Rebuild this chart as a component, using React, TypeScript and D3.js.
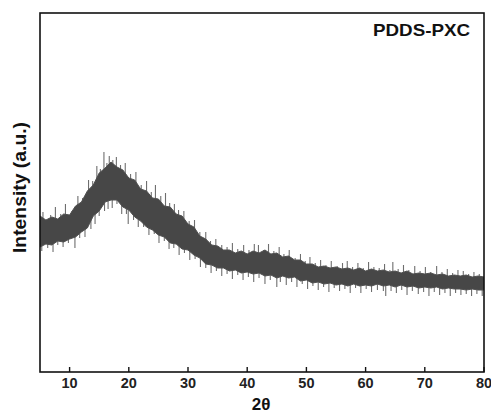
import React from "react";
import * as d3 from "d3";

// 2θ sample positions (1° steps) and the upper / lower edges of the dense XRD trace (a.u.)
const angles = d3.range(5, 81, 1);
const upperEdge = [156, 152, 155, 153, 158, 157, 166, 170, 181, 187, 199, 204, 210, 205, 202, 194, 192, 183, 181, 174, 173, 166, 165, 158, 156, 148, 145, 136, 133, 127, 126, 122, 122, 119, 121, 118, 121, 119, 122, 118, 119, 115, 116, 112, 112, 108, 108, 105, 106, 104, 105, 103, 104, 102, 104, 101, 103, 101, 102, 100, 101, 99, 101, 98, 99, 98, 99, 97, 98, 96, 97, 96, 97, 95, 96, 95];
const lowerEdge = [125, 128, 127, 131, 130, 133, 135, 140, 144, 156, 161, 170, 172, 172, 165, 162, 155, 151, 145, 142, 137, 135, 129, 128, 123, 122, 117, 114, 108, 107, 104, 104, 101, 102, 99, 100, 98, 99, 96, 97, 94, 96, 94, 95, 91, 92, 89, 90, 88, 89, 87, 88, 86, 88, 86, 87, 86, 88, 86, 87, 85, 87, 85, 86, 84, 85, 84, 85, 83, 84, 83, 83, 82, 83, 82, 82];

// noise spikes sticking out above the band: 2θ and tip intensity (a.u.)
const spikeUpAngles = [5.5, 6.8, 7.6, 8.5, 9.3, 10.4, 11.4, 12.2, 13.2, 13.9, 14.6, 15.2, 15.8, 16.3, 16.7, 17.3, 17.9, 18.6, 19.4, 20.3, 21.2, 22.1, 23.0, 23.8, 24.5, 25.4, 26.2, 26.9, 27.7, 28.4, 29.3, 30.2, 31.1, 32.0, 33.0, 33.8, 34.7, 35.7, 36.6, 37.5, 38.4, 39.4, 40.3, 41.2, 41.9, 42.8, 43.6, 44.5, 45.4, 46.2, 47.1, 48.1, 49.0, 49.8, 50.6, 51.5, 52.4, 53.3, 54.2, 55.2, 56.1, 56.9, 57.8, 58.7, 59.6, 60.5, 61.4, 62.3, 63.2, 64.1, 64.6, 65.5, 66.4, 67.3, 68.3, 69.2, 70.1, 71.0, 72.0, 72.9, 73.8, 74.7, 75.6, 76.5, 77.4, 78.3, 79.2];
const spikeUpValues = [160, 157, 165, 158, 168, 161, 176, 174, 192, 191, 206, 203, 220, 209, 216, 212, 215, 207, 209, 198, 200, 187, 191, 180, 187, 176, 179, 169, 168, 162, 161, 151, 152, 140, 140, 131, 133, 127, 125, 129, 123, 127, 122, 128, 127, 122, 128, 121, 125, 118, 122, 114, 118, 111, 115, 109, 112, 107, 111, 106, 109, 111, 105, 109, 104, 110, 105, 104, 108, 102, 110, 103, 107, 102, 106, 101, 105, 100, 106, 100, 103, 99, 102, 101, 98, 100, 98];

// noise spikes sticking out below the band: 2θ and tip intensity (a.u.)
const spikeDownAngles = [5.3, 6.3, 7.2, 8.0, 8.9, 9.8, 10.9, 11.7, 12.6, 13.6, 14.3, 15.0, 15.9, 16.5, 17.2, 18.0, 18.8, 19.6, 19.9, 20.8, 21.6, 22.5, 23.4, 24.3, 25.1, 26.0, 26.8, 27.6, 28.5, 29.4, 30.3, 31.2, 32.1, 33.0, 33.9, 34.8, 35.7, 36.6, 37.5, 38.4, 39.3, 40.2, 41.1, 42.0, 43.0, 43.9, 45.0, 45.6, 46.6, 47.5, 48.4, 49.3, 50.2, 51.1, 52.0, 52.9, 53.8, 54.7, 55.6, 56.5, 57.4, 58.3, 59.2, 60.1, 61.0, 62.0, 63.0, 63.4, 64.3, 65.2, 66.1, 67.0, 67.9, 68.9, 69.8, 70.7, 71.6, 72.5, 73.4, 74.3, 75.2, 76.1, 77.0, 77.9, 78.8, 79.7];
const spikeDownValues = [121, 124, 120, 127, 125, 129, 124, 134, 135, 143, 148, 156, 161, 163, 164, 168, 158, 158, 148, 152, 145, 145, 137, 138, 129, 131, 123, 124, 117, 119, 112, 113, 105, 104, 99, 101, 96, 98, 93, 97, 92, 95, 90, 94, 88, 92, 85, 90, 87, 90, 85, 88, 83, 86, 82, 85, 80, 84, 81, 83, 79, 84, 79, 83, 80, 82, 81, 76, 81, 79, 82, 77, 81, 78, 80, 76, 80, 77, 79, 76, 79, 77, 78, 76, 78, 76];

const xTicks = [10, 20, 30, 40, 50, 60, 70, 80];

const W = 491;
const H = 412;
const m = { left: 40, right: 484, top: 13, bottom: 372 };

type Pt = { a: number; hi: number; lo: number };

export default function App() {
  const x = d3.scaleLinear().domain([5, 80]).range([m.left, m.right]);
  const y = d3.scaleLinear().domain([0, 359]).range([m.bottom, m.top]);

  const band: Pt[] = angles.map((a, i) => ({ a, hi: upperEdge[i], lo: lowerEdge[i] }));
  const area = d3
    .area<Pt>()
    .x((d) => x(d.a))
    .y0((d) => y(d.lo))
    .y1((d) => y(d.hi))
    .curve(d3.curveLinear);
  const upLine = d3.line<Pt>().x((d) => x(d.a)).y((d) => y(d.hi));
  const loLine = d3.line<Pt>().x((d) => x(d.a)).y((d) => y(d.lo));

  const upAt = d3.scaleLinear().domain(angles).range(upperEdge);
  const loAt = d3.scaleLinear().domain(angles).range(lowerEdge);
  const mid = (a: number) => (upAt(a) + loAt(a)) / 2;

  const font = "'Liberation Sans', Arial, sans-serif";
  const color = "#474747";

  return (
    <svg width={W} height={H} style={{ position: "absolute", left: 0, top: 0 }}>
      <rect x={0} y={0} width={W} height={H} fill="#fff" />
      <g>
        {spikeUpAngles.map((a, i) => (
          <line
            key={"u" + i}
            x1={x(a)}
            x2={x(a)}
            y1={y(mid(a))}
            y2={y(spikeUpValues[i])}
            stroke="#555"
            strokeOpacity={0.85}
            strokeWidth={1.1}
          />
        ))}
        {spikeDownAngles.map((a, i) => (
          <line
            key={"d" + i}
            x1={x(a)}
            x2={x(a)}
            y1={y(mid(a))}
            y2={y(spikeDownValues[i])}
            stroke="#555"
            strokeOpacity={0.85}
            strokeWidth={1.1}
          />
        ))}
        <path d={area(band) ?? ""} fill={color} />
        <path d={upLine(band) ?? ""} fill="none" stroke="#505050" strokeWidth={1} />
        <path d={loLine(band) ?? ""} fill="none" stroke="#505050" strokeWidth={1} />
      </g>
      <rect
        x={m.left}
        y={m.top}
        width={m.right - m.left}
        height={m.bottom - m.top}
        fill="none"
        stroke="#111"
        strokeWidth={1.6}
      />
      {xTicks.map((t) => (
        <g key={t}>
          <line x1={x(t)} x2={x(t)} y1={m.bottom} y2={m.bottom - 5} stroke="#111" strokeWidth={1.4} />
          <text
            x={x(t)}
            y={387.5}
            textAnchor="middle"
            fontFamily={font}
            fontWeight="bold"
            fontSize={14.5}
            fill="#222"
          >
            {t}
          </text>
        </g>
      ))}
      <text x={261} y={409.5} textAnchor="middle" fontFamily={font} fontWeight="bold" fontSize={17} fill="#111">
        2θ
      </text>
      <text
        transform={`translate(26, 187.5) rotate(-90)`}
        textAnchor="middle"
        fontFamily={font}
        fontWeight="bold"
        fontSize={18}
        textLength={131}
        lengthAdjust="spacingAndGlyphs"
        fill="#111"
      >
        Intensity (a.u.)
      </text>
      <text
        x={470}
        y={36}
        textAnchor="end"
        fontFamily={font}
        fontWeight="bold"
        fontSize={17}
        textLength={97}
        lengthAdjust="spacingAndGlyphs"
        fill="#111"
      >
        PDDS-PXC
      </text>
    </svg>
  );
}
